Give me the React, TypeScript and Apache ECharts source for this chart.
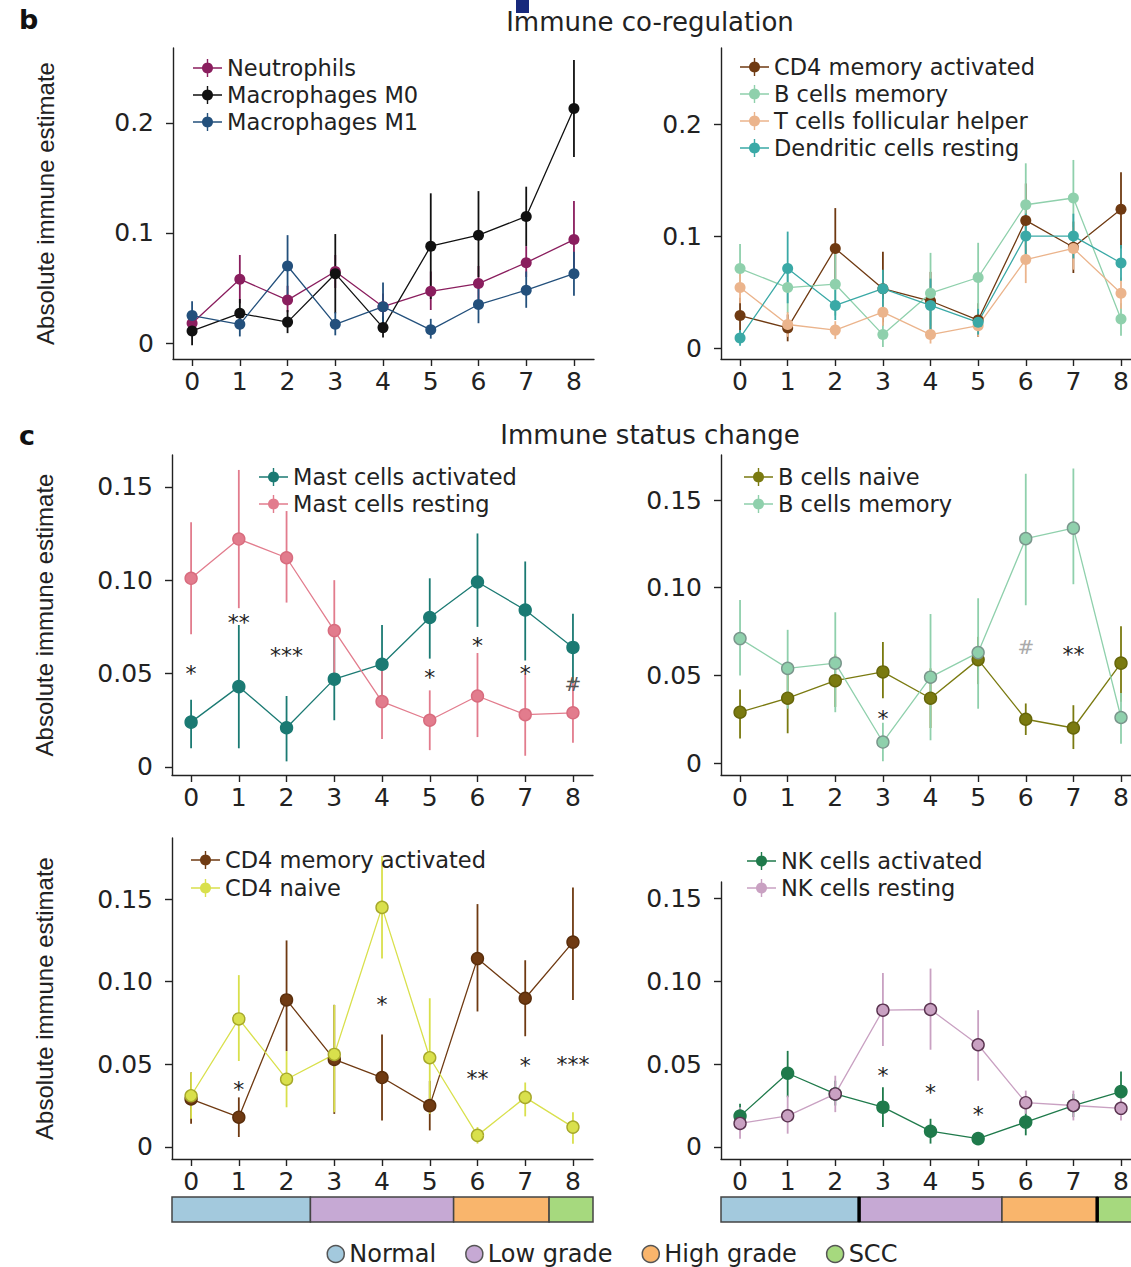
import React, { useEffect, useRef } from "react";
import * as echarts from "echarts";

// ---------- data ----------
const samples = [0, 1, 2, 3, 4, 5, 6, 7, 8];
const yTicksB = [0, 0.1, 0.2];
const yTicksC = [0, 0.05, 0.1, 0.15];

// panel b, left
const neutroMean = [0.018, 0.058, 0.039, 0.065, 0.033, 0.047, 0.054, 0.073, 0.094];
const neutroLo = [0.010, 0.036, 0.028, 0.050, 0.022, 0.030, 0.040, 0.060, 0.059];
const neutroHi = [0.027, 0.080, 0.052, 0.080, 0.045, 0.065, 0.070, 0.088, 0.129];
const m0Mean = [0.011, 0.027, 0.019, 0.063, 0.014, 0.088, 0.098, 0.115, 0.213];
const m0Lo = [-0.002, 0.015, 0.009, 0.027, 0.005, 0.040, 0.060, 0.088, 0.169];
const m0Hi = [0.024, 0.040, 0.030, 0.099, 0.024, 0.136, 0.138, 0.142, 0.257];
const m1Mean = [0.025, 0.017, 0.070, 0.017, 0.033, 0.012, 0.035, 0.048, 0.063];
const m1Lo = [0.014, 0.006, 0.042, 0.007, 0.018, 0.004, 0.018, 0.032, 0.043];
const m1Hi = [0.038, 0.030, 0.098, 0.028, 0.055, 0.022, 0.052, 0.065, 0.083];

// panel b, right (and shared with c)
const cd4MemMean = [0.029, 0.018, 0.089, 0.053, 0.042, 0.025, 0.114, 0.090, 0.124];
const cd4MemLo = [0.014, 0.006, 0.058, 0.020, 0.016, 0.010, 0.082, 0.067, 0.089];
const cd4MemHi = [0.045, 0.030, 0.125, 0.086, 0.068, 0.040, 0.147, 0.113, 0.157];
const bMemMean = [0.071, 0.054, 0.057, 0.012, 0.049, 0.063, 0.128, 0.134, 0.026];
const bMemLo = [0.050, 0.031, 0.029, 0.001, 0.013, 0.031, 0.090, 0.102, 0.011];
const bMemHi = [0.093, 0.076, 0.086, 0.023, 0.085, 0.094, 0.165, 0.168, 0.040];
const tfhMean = [0.054, 0.021, 0.016, 0.032, 0.012, 0.020, 0.079, 0.089, 0.049];
const tfhLo = [0.040, 0.010, 0.008, 0.020, 0.004, 0.010, 0.058, 0.070, 0.035];
const tfhHi = [0.068, 0.032, 0.024, 0.044, 0.020, 0.030, 0.100, 0.108, 0.063];
const dcMean = [0.009, 0.071, 0.038, 0.053, 0.038, 0.023, 0.100, 0.100, 0.076];
const dcLo = [0.002, 0.040, 0.025, 0.035, 0.015, 0.012, 0.080, 0.080, 0.060];
const dcHi = [0.016, 0.104, 0.052, 0.070, 0.062, 0.035, 0.120, 0.120, 0.092];

// panel c, mast cells
const mastActMean = [0.024, 0.043, 0.021, 0.047, 0.055, 0.080, 0.099, 0.084, 0.064];
const mastActLo = [0.010, 0.010, 0.003, 0.025, 0.035, 0.058, 0.075, 0.057, 0.045];
const mastActHi = [0.036, 0.076, 0.038, 0.070, 0.076, 0.101, 0.125, 0.110, 0.082];
const mastRestMean = [0.101, 0.122, 0.112, 0.073, 0.035, 0.025, 0.038, 0.028, 0.029];
const mastRestLo = [0.071, 0.085, 0.088, 0.047, 0.015, 0.009, 0.016, 0.006, 0.013];
const mastRestHi = [0.131, 0.159, 0.137, 0.100, 0.054, 0.041, 0.061, 0.050, 0.045];
const mastSigX = [0, 1, 2, 5, 6, 7, 8];
const mastSigY = [0.053, 0.080, 0.0625, 0.0505, 0.068, 0.053, 0.0446];
const mastSigText = ["*", "**", "***", "*", "*", "*", "#"];

// panel c, B cells
const bNaiveMean = [0.029, 0.037, 0.047, 0.052, 0.037, 0.059, 0.025, 0.020, 0.057];
const bNaiveLo = [0.014, 0.017, 0.032, 0.037, 0.020, 0.045, 0.016, 0.008, 0.035];
const bNaiveHi = [0.042, 0.057, 0.062, 0.069, 0.054, 0.072, 0.034, 0.033, 0.078];
const bSigX = [3, 6, 7];
const bSigY = [0.0286, 0.066, 0.065];
const bSigText = ["*", "#", "**"];

// panel c, CD4
const cd4NaiveMean = [0.031, 0.0775, 0.041, 0.056, 0.145, 0.054, 0.007, 0.030, 0.012];
const cd4NaiveLo = [0.017, 0.052, 0.024, 0.021, 0.114, 0.020, 0.002, 0.0185, 0.002];
const cd4NaiveHi = [0.045, 0.104, 0.058, 0.086, 0.176, 0.090, 0.012, 0.039, 0.021];
const cd4SigX = [1, 4, 6, 7, 8];
const cd4SigY = [0.038, 0.0895, 0.0447, 0.0523, 0.053];
const cd4SigText = ["*", "*", "**", "*", "***"];

// panel c, NK cells
const nkActMean = [0.0186, 0.0445, 0.032, 0.024, 0.0095, 0.005, 0.015, 0.025, 0.0334];
const nkActLo = [0.012, 0.030, 0.025, 0.012, 0.002, 0.002, 0.007, 0.018, 0.022];
const nkActHi = [0.026, 0.058, 0.040, 0.036, 0.017, 0.008, 0.023, 0.032, 0.0455];
const nkRestMean = [0.0142, 0.0188, 0.032, 0.0826, 0.083, 0.0617, 0.0267, 0.025, 0.0233];
const nkRestLo = [0.005, 0.008, 0.021, 0.061, 0.0587, 0.040, 0.020, 0.016, 0.016];
const nkRestHi = [0.024, 0.031, 0.043, 0.105, 0.1077, 0.0826, 0.034, 0.034, 0.031];
const nkSigX = [3, 4, 5];
const nkSigY = [0.0466, 0.036, 0.0227];
const nkSigText = ["*", "*", "*"];

// stages
const stageNames = ["Normal", "Low grade", "High grade", "SCC"];
const stageFirstSample = [0, 3, 6, 8];
const stageLastSample = [2, 5, 7, 8];

// ---------- styles ----------
const FONT = "'DejaVu Sans', 'Liberation Sans', Arial, sans-serif";
const FONT_NAME = "'Liberation Sans', Arial, Helvetica, sans-serif";
const TEXT = "#222";
const X_MIN = -0.4;
const X_MAX = 8.42;
const stageColors = ["#a3c9dd", "#c6a9d4", "#f9b56c", "#a6d97e"];
const LEG_FS = 22.5;
const LEG_LH = 23;

type Line = { name: string; mean: number[]; lo: number[]; hi: number[]; color: string; border: string };

const L = {
  neutro: { name: "Neutrophils", mean: neutroMean, lo: neutroLo, hi: neutroHi, color: "#8a1e5e", border: "#8a1e5e" },
  m0: { name: "Macrophages M0", mean: m0Mean, lo: m0Lo, hi: m0Hi, color: "#111111", border: "#111111" },
  m1: { name: "Macrophages M1", mean: m1Mean, lo: m1Lo, hi: m1Hi, color: "#23507c", border: "#23507c" },
  cd4Mem: { name: "CD4 memory activated", mean: cd4MemMean, lo: cd4MemLo, hi: cd4MemHi, color: "#6f3a12", border: "#5a2e0c" },
  bMem: { name: "B cells memory", mean: bMemMean, lo: bMemLo, hi: bMemHi, color: "#8fd0ac", border: "#7a968c" },
  tfh: { name: "T cells follicular helper", mean: tfhMean, lo: tfhLo, hi: tfhHi, color: "#ebb48c", border: "#ebb48c" },
  dc: { name: "Dendritic cells resting", mean: dcMean, lo: dcLo, hi: dcHi, color: "#3aa9a6", border: "#3aa9a6" },
  mastAct: { name: "Mast cells activated", mean: mastActMean, lo: mastActLo, hi: mastActHi, color: "#1b7a73", border: "#1b7a73" },
  mastRest: { name: "Mast cells resting", mean: mastRestMean, lo: mastRestLo, hi: mastRestHi, color: "#e27c8d", border: "#d86c7e" },
  bNaive: { name: "B cells naive", mean: bNaiveMean, lo: bNaiveLo, hi: bNaiveHi, color: "#7a7a10", border: "#66660a" },
  cd4Naive: { name: "CD4 naive", mean: cd4NaiveMean, lo: cd4NaiveLo, hi: cd4NaiveHi, color: "#d9e04c", border: "#a6a82a" },
  nkAct: { name: "NK cells activated", mean: nkActMean, lo: nkActLo, hi: nkActHi, color: "#1f7a4b", border: "#1f7a4b" },
  nkRest: { name: "NK cells resting", mean: nkRestMean, lo: nkRestLo, hi: nkRestHi, color: "#c9a1c2", border: "#5a3450" },
};

type Panel = {
  grid: { left: number; top: number; width: number; height: number };
  y: [number, number];
  ticks: number[];
  dec: number;
  yName: boolean;
  lines: Line[];
  c: boolean;
  legend: { left: number; firstRow: number; spacing: number };
  sig?: { x: number[]; y: number[]; t: string[] };
};

const panels: Panel[] = [
  { grid: { left: 173, top: 48, width: 421, height: 311 }, y: [-0.0145, 0.268], ticks: yTicksB, dec: 1, yName: true, c: false,
    lines: [L.neutro, L.m0, L.m1], legend: { left: 193, firstRow: 68, spacing: 27 } },
  { grid: { left: 721, top: 48, width: 420, height: 311 }, y: [-0.0098, 0.268], ticks: yTicksB, dec: 1, yName: false, c: false,
    lines: [L.cd4Mem, L.bMem, L.tfh, L.dc], legend: { left: 740, firstRow: 67, spacing: 27 } },
  { grid: { left: 172, top: 455, width: 421, height: 320 }, y: [-0.0043, 0.167], ticks: yTicksC, dec: 2, yName: true, c: true,
    lines: [L.mastAct, L.mastRest], legend: { left: 259, firstRow: 477, spacing: 27 },
    sig: { x: mastSigX, y: mastSigY, t: mastSigText } },
  { grid: { left: 721, top: 455, width: 420, height: 320 }, y: [-0.0068, 0.1757], ticks: yTicksC, dec: 2, yName: false, c: true,
    lines: [L.bNaive, L.bMem], legend: { left: 744, firstRow: 477, spacing: 27 },
    sig: { x: bSigX, y: bSigY, t: bSigText } },
  { grid: { left: 172, top: 838, width: 421, height: 321 }, y: [-0.0073, 0.187], ticks: yTicksC, dec: 2, yName: true, c: true,
    lines: [L.cd4Mem, L.cd4Naive], legend: { left: 191, firstRow: 860, spacing: 28 },
    sig: { x: cd4SigX, y: cd4SigY, t: cd4SigText } },
  { grid: { left: 721, top: 882, width: 420, height: 277 }, y: [-0.0073, 0.16], ticks: yTicksC, dec: 2, yName: false, c: true,
    lines: [L.nkAct, L.nkRest], legend: { left: 747, firstRow: 861, spacing: 27 },
    sig: { x: nkSigX, y: nkSigY, t: nkSigText } },
];

const barGrids = [
  { left: 172, top: 1197, width: 421, height: 25, heavyDividers: false },
  { left: 721, top: 1197, width: 420, height: 25, heavyDividers: true },
];

const LEG_ICON =
  "path://M0,8.3L29,8.3L29,9.7L0,9.7Z M13.8,0L15.2,0L15.2,18L13.8,18Z M14.5,3.5A5.5,5.5 0 1 1 14.49,3.5Z";

function buildOption(): any {
  const grid: any[] = [];
  const xAxis: any[] = [];
  const yAxis: any[] = [];
  const series: any[] = [];
  const legend: any[] = [];

  panels.forEach((p, i) => {
    grid.push({ ...p.grid, outerBoundsMode: "none", containLabel: false });
    xAxis.push({
      type: "value", gridIndex: i, min: X_MIN, max: X_MAX,
      axisLine: { show: true, onZero: false, lineStyle: { color: TEXT, width: 1.4 } },
      axisTick: { show: true, customValues: samples, length: 7, lineStyle: { color: TEXT, width: 1.4 } },
      axisLabel: { show: true, customValues: samples, margin: 10, fontSize: 25, color: TEXT, fontFamily: FONT },
      splitLine: { show: false },
    });
    yAxis.push({
      type: "value", gridIndex: i, min: p.y[0], max: p.y[1],
      axisLine: { show: true, onZero: false, lineStyle: { color: TEXT, width: 1.4 } },
      axisTick: { show: true, customValues: p.ticks, length: 7, lineStyle: { color: TEXT, width: 1.4 } },
      axisLabel: {
        show: true, customValues: p.ticks, margin: 19, fontSize: 25, color: TEXT, fontFamily: FONT,
        formatter: (v: number) => (Math.abs(v) < 1e-9 ? "0" : v.toFixed(p.dec)),
      },
      splitLine: { show: false },
      name: p.yName ? "Absolute immune estimate" : "",
      nameLocation: "middle",
      nameRotate: 90,
      nameGap: 116,
      nameTextStyle: { fontSize: 24, color: TEXT, fontFamily: FONT_NAME },
    });

    p.lines.forEach((l) => {
      series.push({
        type: "custom", name: l.name + " (range)", xAxisIndex: i, yAxisIndex: i, silent: true, z: 2,
        data: samples.map((s, k) => [s, l.lo[k], l.hi[k]]),
        encode: { x: 0, y: [1, 2] },
        renderItem: (params: any, api: any) => {
          const a = api.coord([api.value(0), api.value(1)]);
          const b = api.coord([api.value(0), api.value(2)]);
          return {
            type: "line",
            shape: { x1: a[0], y1: a[1], x2: b[0], y2: b[1] },
            style: { stroke: l.color, lineWidth: 1.8 },
          };
        },
      });
    });
    p.lines.forEach((l) => {
      series.push({
        type: "line", name: l.name, xAxisIndex: i, yAxisIndex: i, silent: true, z: 3,
        data: samples.map((s, k) => [s, l.mean[k]]),
        symbol: "circle",
        symbolSize: p.c ? 12 : 11,
        lineStyle: { color: l.color, width: 1.3 },
        itemStyle: { color: l.color, borderColor: p.c ? l.border : l.color, borderWidth: p.c ? 1.4 : 0 },
        emphasis: { disabled: true },
      });
    });
    if (p.sig) {
      const sig = p.sig;
      series.push({
        type: "custom", name: "significance " + i, xAxisIndex: i, yAxisIndex: i, silent: true, z: 4,
        data: sig.x.map((x, k) => [x, sig.y[k]]),
        renderItem: (params: any, api: any) => {
          const pt = api.coord([api.value(0), api.value(1)]);
          const t = sig.t[params.dataIndex];
          const star = t.indexOf("*") >= 0;
          const fs = star ? 22 : 20;
          return {
            type: "text",
            x: pt[0],
            y: pt[1] + (star ? fs * 0.24 : 0),
            style: {
              text: t, fontSize: fs, fontFamily: FONT,
              fill: star ? TEXT : i === 3 ? "#aaaaaa" : "#555555",
              align: "center", verticalAlign: "middle",
            },
          };
        },
      });
    }
    legend.push({
      data: p.lines.map((l) => l.name),
      orient: "vertical", left: p.legend.left, top: p.legend.firstRow - LEG_LH / 2,
      itemGap: p.legend.spacing - LEG_LH,
      itemWidth: 29, itemHeight: 18, icon: LEG_ICON, padding: 0, selectedMode: false,
      itemStyle: { borderWidth: 0 },
      textStyle: { fontSize: LEG_FS, lineHeight: LEG_LH, color: TEXT, fontFamily: FONT },
    });
  });

  barGrids.forEach((g, j) => {
    const gi = panels.length + j;
    grid.push({ left: g.left, top: g.top, width: g.width, height: g.height, outerBoundsMode: "none", containLabel: false });
    xAxis.push({ type: "value", gridIndex: gi, min: X_MIN, max: X_MAX, show: false });
    yAxis.push({ type: "value", gridIndex: gi, min: 0, max: 1, show: false });
    stageNames.forEach((name, k) => {
      const start = k === 0 ? X_MIN : (stageLastSample[k - 1] + stageFirstSample[k]) / 2;
      const end = k === stageNames.length - 1 ? X_MAX : (stageLastSample[k] + stageFirstSample[k + 1]) / 2;
      const heavy = g.heavyDividers && (k === 1 || k === 3);
      series.push({
        type: "custom", name, xAxisIndex: gi, yAxisIndex: gi, silent: true,
        itemStyle: { color: stageColors[k] },
        data: [[start, end]],
        renderItem: (params: any, api: any) => {
          const a = api.coord([api.value(0), 1]);
          const b = api.coord([api.value(1), 0]);
          const children: any[] = [
            {
              type: "rect",
              shape: { x: a[0], y: a[1], width: b[0] - a[0], height: b[1] - a[1] },
              style: { fill: stageColors[k], stroke: "#444", lineWidth: 1.5 },
            },
          ];
          if (heavy) {
            children.push({
              type: "line",
              shape: { x1: a[0], y1: a[1], x2: a[0], y2: b[1] },
              style: { stroke: "#000", lineWidth: 3.5 },
            });
          }
          return { type: "group", children };
        },
      });
    });
  });

  legend.push({
    data: stageNames, orient: "horizontal", left: 326.5, top: 1242, itemGap: 29,
    itemWidth: 17, itemHeight: 17, icon: "circle", padding: 0, selectedMode: false,
    itemStyle: { borderColor: "#555", borderWidth: 1.5 },
    textStyle: { fontSize: 24, lineHeight: 24, color: TEXT, fontFamily: FONT },
  });

  const graphic = [
    { type: "rect", shape: { x: 516, y: 0, width: 13, height: 13 }, style: { fill: "#17297c" } },
    { type: "text", x: 19, y: 33, style: { text: "b", fontSize: 27, fontWeight: "bold", fontFamily: FONT, fill: "#111", verticalAlign: "bottom" } },
    { type: "text", x: 19, y: 449, style: { text: "c", fontSize: 27, fontWeight: "bold", fontFamily: FONT, fill: "#111", verticalAlign: "bottom" } },
    { type: "text", x: 650, y: 22, style: { text: "Immune co-regulation", fontSize: 26, fontFamily: FONT, fill: TEXT, align: "center", verticalAlign: "middle" } },
    { type: "text", x: 650, y: 435, style: { text: "Immune status change", fontSize: 26, fontFamily: FONT, fill: TEXT, align: "center", verticalAlign: "middle" } },
  ];

  return {
    animation: false,
    backgroundColor: "#ffffff",
    textStyle: { fontFamily: FONT },
    grid, xAxis, yAxis, series, legend, graphic,
  };
}

export default function App() {
  const ref = useRef<HTMLDivElement>(null);
  useEffect(() => {
    if (!ref.current) return;
    const chart = echarts.init(ref.current, null, { renderer: "svg" });
    chart.setOption(buildOption());
    return () => chart.dispose();
  }, []);
  return (
    <div
      ref={ref}
      style={{ position: "absolute", left: 0, top: 0, width: 1131, height: 1267, background: "#fff" }}
    />
  );
}
